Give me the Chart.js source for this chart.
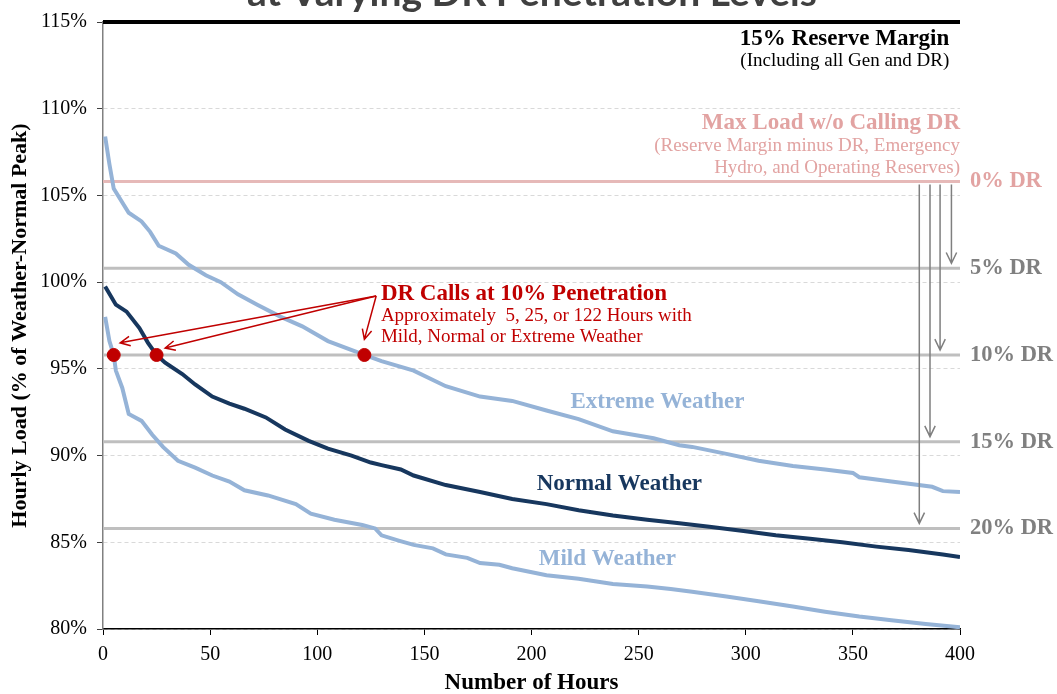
<!DOCTYPE html>
<html>
<head>
<meta charset="utf-8">
<script src="https://cdn.jsdelivr.net/npm/chart.js@4.4.0/dist/chart.umd.min.js"></script>
<style>
  body { margin: 0; background: #fff; }
  #wrap { width: 1057px; height: 694px; }
</style>
</head>
<body>
<div id="wrap"><canvas id="loadChart"></canvas></div>
<script>
// load duration curves
const extremeHours = [1, 3, 5, 7, 12, 18, 22, 26, 34, 40, 48, 55, 63, 72, 83, 93, 105, 118, 122, 130, 145, 160, 176, 191, 207, 222, 238, 257, 269, 275, 291, 306, 322, 337, 350, 353, 368, 387, 392, 400];
const extremeLoad  = [108.4, 106.8, 105.4, 105.0, 104.0, 103.5, 102.9, 102.1, 101.65, 101.0, 100.4, 100.0, 99.3, 98.7, 98.0, 97.45, 96.6, 96.0, 95.8, 95.45, 94.9, 94.0, 93.4, 93.15, 92.6, 92.1, 91.4, 91.0, 90.6, 90.5, 90.1, 89.7, 89.4, 89.2, 89.0, 88.75, 88.5, 88.2, 87.95, 87.9];

const normalHours = [1, 6, 11, 17, 21, 25, 29, 37, 43, 51, 59, 66, 76, 85, 96, 105, 116, 125, 130, 139, 145, 160, 176, 191, 207, 222, 238, 254, 269, 283, 299, 314, 330, 345, 361, 376, 392, 400];
const normalLoad  = [99.75, 98.7, 98.3, 97.35, 96.5, 95.8, 95.35, 94.7, 94.1, 93.4, 93.0, 92.7, 92.2, 91.5, 90.85, 90.4, 90.0, 89.6, 89.45, 89.2, 88.85, 88.3, 87.9, 87.5, 87.2, 86.85, 86.55, 86.3, 86.1, 85.9, 85.65, 85.4, 85.2, 85.0, 84.75, 84.55, 84.3, 84.15];

const mildHours = [1, 3, 5, 6, 9, 12, 18, 23, 28, 35, 43, 51, 59, 66, 77, 90, 97, 108, 121, 127, 130, 138, 145, 154, 160, 170, 176, 185, 191, 207, 222, 238, 254, 265, 275, 291, 306, 322, 337, 353, 368, 384, 400];
const mildLoad  = [98.0, 96.6, 95.8, 94.9, 93.9, 92.4, 92.0, 91.2, 90.5, 89.7, 89.3, 88.85, 88.5, 88.0, 87.7, 87.2, 86.65, 86.3, 86.0, 85.8, 85.4, 85.1, 84.85, 84.65, 84.3, 84.1, 83.8, 83.7, 83.5, 83.1, 82.9, 82.6, 82.45, 82.3, 82.15, 81.87, 81.6, 81.3, 81.0, 80.72, 80.5, 80.29, 80.1];

const reserveMargin = 115;
const drLevels = [105.8, 100.8, 95.8, 90.8, 85.8];
const drNames  = ['0% DR', '5% DR', '10% DR', '15% DR', '20% DR'];
const callHours = [5, 25, 122];
const callLoad = 95.8;

const serif = '"Liberation Serif", "Times New Roman", serif';
const pink = '#E6B9B8';
const pinkText = '#E2A3A2';
const grey = '#BFBFBF';
const greyText = '#808080';
const red = '#C00000';
const lightBlue = '#95B3D7';
const navy = '#17375E';

function toPoints(xs, ys) {
  return xs.map((x, i) => ({ x: x, y: ys[i] }));
}

function flatLine(y) {
  return [{ x: 0, y: y }, { x: 400, y: y }];
}

function arrow(ctx, x1, y1, x2, y2, color, width, head) {
  const a = Math.atan2(y2 - y1, x2 - x1);
  ctx.save();
  ctx.strokeStyle = color;
  ctx.lineWidth = width;
  ctx.beginPath();
  ctx.moveTo(x1, y1);
  ctx.lineTo(x2, y2);
  ctx.moveTo(x2 - head * Math.cos(a - 0.45), y2 - head * Math.sin(a - 0.45));
  ctx.lineTo(x2, y2);
  ctx.lineTo(x2 - head * Math.cos(a + 0.45), y2 - head * Math.sin(a + 0.45));
  ctx.stroke();
  ctx.restore();
}

// text notes, placed in data units (hours, % load)
const notes = [
  { text: '15% Reserve Margin', x: 395, y: 114.0, font: 'bold 23px', color: '#000', align: 'right' },
  { text: '(Including all Gen and DR)', x: 395, y: 112.75, font: '19px', color: '#000', align: 'right' },
  { text: 'Max Load w/o Calling DR', x: 400, y: 109.15, font: 'bold 23px', color: pinkText, align: 'right' },
  { text: '(Reserve Margin minus DR, Emergency', x: 400, y: 107.85, font: '19px', color: pinkText, align: 'right' },
  { text: 'Hydro, and Operating Reserves)', x: 400, y: 106.6, font: '19px', color: pinkText, align: 'right' },
  { text: 'DR Calls at 10% Penetration', x: 129.7, y: 99.3, font: 'bold 23px', color: red, align: 'left' },
  { text: 'Approximately  5, 25, or 122 Hours with', x: 129.7, y: 98.05, font: '19px', color: red, align: 'left' },
  { text: 'Mild, Normal or Extreme Weather', x: 129.7, y: 96.85, font: '19px', color: red, align: 'left' },
  { text: 'Extreme Weather', x: 258.8, y: 93.1, font: 'bold 23px', color: lightBlue, align: 'center' },
  { text: 'Normal Weather', x: 241, y: 88.35, font: 'bold 23px', color: navy, align: 'center' },
  { text: 'Mild Weather', x: 235.4, y: 84.05, font: 'bold 23px', color: lightBlue, align: 'center' }
];

const notesPlugin = {
  id: 'notes',
  afterDatasetsDraw(chart) {
    const ctx = chart.ctx;
    const xs = chart.scales.x, ys = chart.scales.y;

    // red call-out arrows
    const from = [xs.getPixelForValue(127.5), ys.getPixelForValue(99.2)];
    [[8, 96.5], [29, 96.2], [122, 96.7]].forEach(p => {
      arrow(ctx, from[0], from[1], xs.getPixelForValue(p[0]), ys.getPixelForValue(p[1]), red, 1.5, 11);
    });

    // grey arrows from 0% DR down to each level
    const arrowHours = [396, 390.7, 386, 381];
    const top = ys.getPixelForValue(drLevels[0]) + 3;
    for (let i = 1; i < drLevels.length; i++) {
      const x = xs.getPixelForValue(arrowHours[i - 1]);
      arrow(ctx, x, top, x, ys.getPixelForValue(drLevels[i]) - 5, '#7F7F7F', 1.5, 12);
    }

    ctx.save();
    ctx.textBaseline = 'middle';
    notes.forEach(n => {
      ctx.font = n.font + ' ' + serif;
      ctx.fillStyle = n.color;
      ctx.textAlign = n.align;
      ctx.fillText(n.text, xs.getPixelForValue(n.x), ys.getPixelForValue(n.y));
    });

    // DR level labels right of the plot
    ctx.font = 'bold 22.5px ' + serif;
    ctx.textAlign = 'left';
    drLevels.forEach((v, i) => {
      ctx.fillStyle = i === 0 ? pinkText : greyText;
      ctx.fillText(drNames[i], xs.right + 10, ys.getPixelForValue(v));
    });

    // slide title, cut off by the top edge
    ctx.font = 'bold 39px Lato, "Open Sans", sans-serif';
    ctx.fillStyle = '#404040';
    ctx.textAlign = 'center';
    ctx.textBaseline = 'alphabetic';
    ctx.fillText('at Varying DR Penetration Levels', 532, 6);
    ctx.restore();
  }
};

const refLines = drLevels.map((v, i) => ({
  type: 'line',
  data: flatLine(v),
  borderColor: i === 0 ? pink : grey,
  borderWidth: 3,
  pointRadius: 0,
  order: 3
}));

const ctx = document.getElementById('loadChart').getContext('2d');

const config = {
  type: 'line',
  data: {
    datasets: [
      {
        type: 'scatter',
        label: 'DR calls',
        data: callHours.map(h => ({ x: h, y: callLoad })),
        backgroundColor: red,
        borderColor: red,
        pointRadius: 6.5,
        order: 0
      },
      {
        label: 'Extreme Weather',
        data: toPoints(extremeHours, extremeLoad),
        borderColor: lightBlue,
        borderWidth: 4,
        pointRadius: 0,
        order: 1
      },
      {
        label: 'Normal Weather',
        data: toPoints(normalHours, normalLoad),
        borderColor: navy,
        borderWidth: 4,
        pointRadius: 0,
        order: 1
      },
      {
        label: 'Mild Weather',
        data: toPoints(mildHours, mildLoad),
        borderColor: lightBlue,
        borderWidth: 4,
        pointRadius: 0,
        order: 1
      },
      {
        label: '15% Reserve Margin',
        data: flatLine(reserveMargin),
        borderColor: '#000',
        borderWidth: 4,
        pointRadius: 0,
        clip: false,
        order: 2
      },
      ...refLines
    ]
  },
  options: {
    responsive: true,
    maintainAspectRatio: false,
    animation: false,
    layout: { padding: { top: 19, right: 97, left: 0, bottom: 0 } },
    plugins: {
      legend: { display: false },
      tooltip: { enabled: false }
    },
    scales: {
      x: {
        type: 'linear',
        min: 0,
        max: 400,
        afterFit(scale) { scale.height = 65; },
        ticks: {
          stepSize: 50,
          color: '#000',
          padding: 8,
          font: { family: serif, size: 20 }
        },
        grid: {
          drawOnChartArea: false,
          tickLength: 6,
          tickColor: '#000'
        },
        border: { color: '#000', width: 1.5 },
        title: {
          display: true,
          text: 'Number of Hours',
          color: '#000',
          font: { family: serif, size: 23, weight: 'bold', lineHeight: 1 },
          padding: { top: 0, bottom: -1 }
        }
      },
      y: {
        min: 80,
        max: 115,
        afterFit(scale) { scale.width = 103; },
        ticks: {
          stepSize: 5,
          color: '#000',
          padding: 10,
          font: { family: serif, size: 20 },
          callback: v => v + '%'
        },
        grid: {
          color: '#D9D9D9',
          lineWidth: 1,
          tickLength: 6,
          tickColor: '#404040',
          tickBorderDash: []
        },
        border: { color: '#808080', width: 1.5, dash: [4, 3] },
        title: {
          display: true,
          text: 'Hourly Load (% of Weather-Normal Peak)',
          color: '#000',
          font: { family: serif, size: 22, weight: 'bold', lineHeight: 1 },
          padding: { top: 9, bottom: 0 }
        }
      }
    }
  },
  plugins: [notesPlugin]
};

var loadChart = new Chart(ctx, config);
</script>
</body>
</html>
